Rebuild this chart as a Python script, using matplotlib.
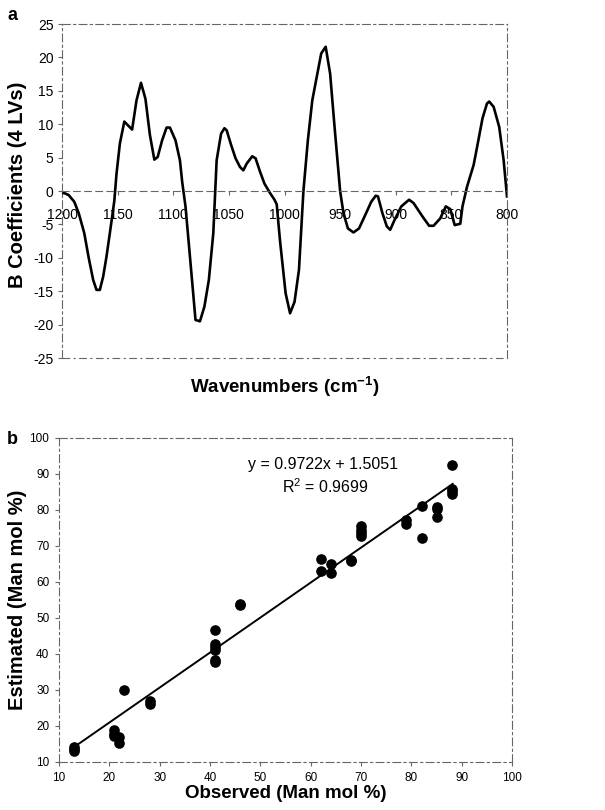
import numpy as np
import matplotlib
matplotlib.use("Agg")
import matplotlib.pyplot as plt

plt.rcParams['font.family'] = ['Liberation Sans', 'DejaVu Sans']
plt.rcParams['mathtext.fontset'] = 'custom'
plt.rcParams['mathtext.rm'] = 'Liberation Sans:bold'
plt.rcParams['mathtext.default'] = 'rm'
plt.rcParams['axes.unicode_minus'] = False

# panel a: regression coefficients vs wavenumber
wavenumber = [1200, 1198, 1194, 1189, 1185, 1180, 1176, 1172, 1169, 1166,
              1163, 1160, 1157, 1153, 1151, 1148, 1144, 1137, 1133, 1129,
              1125, 1121, 1117, 1114, 1110, 1106, 1103, 1098, 1094, 1092,
              1089, 1085, 1080, 1076, 1072, 1068, 1064, 1061, 1057, 1054,
              1052, 1048, 1044, 1040, 1037, 1034, 1029, 1026, 1022, 1018,
              1013, 1009, 1007, 1004, 999, 995, 991, 987, 983, 979,
              975, 971, 967, 963, 959, 955, 950, 947, 943, 938,
              933, 928, 922, 918, 916, 912, 908, 905, 901, 895,
              888, 884, 876, 870, 866, 860, 855, 851, 847, 842,
              840, 836, 830, 828, 822, 818, 816, 812, 807, 803, 800]
b_coef = [-0.3, -0.3, -0.6, -1.6, -3.3, -6.3, -10.0, -13.3, -14.8, -14.8,
          -12.8, -9.8, -6.3, -1.5, 2.6, 7.1, 10.4, 9.2, 13.6, 16.2,
          13.8, 8.4, 4.7, 5.1, 7.6, 9.5, 9.5, 7.6, 4.6, 1.4,
          -2.3, -9.8, -19.3, -19.5, -17.3, -13.3, -6.3, 4.6, 8.6, 9.4,
          9.1, 6.9, 4.9, 3.6, 3.1, 4.1, 5.2, 4.9, 2.9, 1.1,
          -0.3, -1.3, -2.0, -7.5, -15.3, -18.3, -16.6, -11.8, 0.0, 7.6,
          13.6, 17.1, 20.6, 21.6, 17.6, 9.6, 0.0, -3.3, -5.6, -6.2,
          -5.6, -3.8, -1.6, -0.7, -0.8, -3.3, -5.3, -5.8, -4.3, -2.3,
          -1.3, -1.8, -3.8, -5.2, -5.2, -4.1, -2.3, -2.7, -5.1, -4.9,
          -2.3, 0.6, 3.9, 5.6, 10.9, 13.1, 13.4, 12.6, 9.6, 4.6, -0.8]

# panel b: observed vs estimated
observed = [13, 13, 13, 21, 21, 21, 22, 22, 23, 28, 28,
            41, 41, 41, 41, 41, 41, 46, 46,
            62, 62, 64, 64, 68, 68, 70, 70, 70, 70,
            79, 79, 82, 82, 85, 85, 85, 88, 88, 88, 88]
estimated = [14.2, 13.6, 13.0, 19.0, 17.9, 17.2, 16.9, 15.4, 29.9, 26.9, 26.2,
             46.6, 42.9, 41.8, 41.0, 38.2, 37.8, 54.0, 53.7,
             66.4, 63.0, 65.0, 62.5, 66.1, 65.7, 75.5, 74.5, 73.6, 72.9,
             77.3, 76.2, 81.0, 72.2, 80.7, 80.2, 78.0, 92.6, 85.8, 85.2, 84.4]
slope, intercept = 0.9722, 1.5051
fit_range = [13, 88.2]

border = dict(color='0.4', lw=0.8, dashes=(7, 3, 2, 3))

fig = plt.figure(figsize=(6.05, 8.1), dpi=100)

# ---- panel a
ax1 = fig.add_axes([0.1025, 0.558, 0.7355, 0.4123])
ax1.plot(wavenumber, b_coef, color='black', lw=1.9)
ax1.set_xlim(1200, 800)
ax1.set_ylim(-25, 25)
ax1.set_xticks(np.arange(1200, 799, -50))
ax1.set_yticks(np.arange(-25, 26, 5))
for s in ['left', 'right', 'top']:
    ax1.spines[s].set_color('0.4')
    ax1.spines[s].set_linewidth(0.8)
    ax1.spines[s].set_linestyle((0, (7, 3, 2, 3)))
ax1.spines['bottom'].set_position(('data', 0))
ax1.spines['bottom'].set_color('0.4')
ax1.spines['bottom'].set_linewidth(0.8)
ax1.spines['bottom'].set_linestyle((0, (6, 4)))
ax1.axhline(-25, clip_on=False, **border)
ax1.tick_params(axis='x', direction='out', length=3, pad=9, labelsize=10, color='0.4')
ax1.tick_params(axis='y', direction='out', length=3, pad=3, labelsize=10, color='0.4')
ax1.set_ylabel('B Coefficients (4 LVs)', fontsize=14.5, fontweight='bold')
ax1.yaxis.set_label_coords(-0.079, 0.52)
ax1.text(0.5, -0.05, r'Wavenumbers (cm$^{-1}$)', transform=ax1.transAxes,
         ha='center', va='top', fontsize=13.5, fontweight='bold')
fig.text(0.012, 1 - 15 / 810, 'a', fontsize=13, fontweight='bold', va='center')

# ---- panel b
ax2 = fig.add_axes([0.0975, 0.0593, 0.749, 0.4])
ax2.scatter(observed, estimated, s=44, color='black', zorder=3)
fx = np.array(fit_range)
ax2.plot(fx, slope * fx + intercept, color='black', lw=1.4)
ax2.set_xlim(10, 100)
ax2.set_ylim(10, 100)
ax2.set_xticks(np.arange(10, 101, 10))
ax2.set_yticks(np.arange(10, 101, 10))
for s in ax2.spines.values():
    s.set_color('0.4')
    s.set_linewidth(0.8)
    s.set_linestyle((0, (7, 3, 2, 3)))
ax2.tick_params(direction='out', length=3, pad=4, labelsize=8.5, color='0.4')
ax2.set_xlabel('Observed (Man mol %)', fontsize=13.5, fontweight='bold')
ax2.xaxis.set_label_coords(0.5, -0.07)
ax2.set_ylabel('Estimated (Man mol %)', fontsize=14.5, fontweight='bold')
ax2.yaxis.set_label_coords(-0.07, 0.5)
ax2.text(62.5, 92.6, 'y = 0.9722x + 1.5051', ha='center', va='center', fontsize=11.5)
ax2.text(63.0, 86.6, 'R$^{\\mathregular{2}}$ = 0.9699', ha='center', va='center', fontsize=11.5)
fig.text(0.012, 1 - 440 / 810, 'b', fontsize=13, fontweight='bold', va='center')

fig.savefig('out.png', dpi=100)
